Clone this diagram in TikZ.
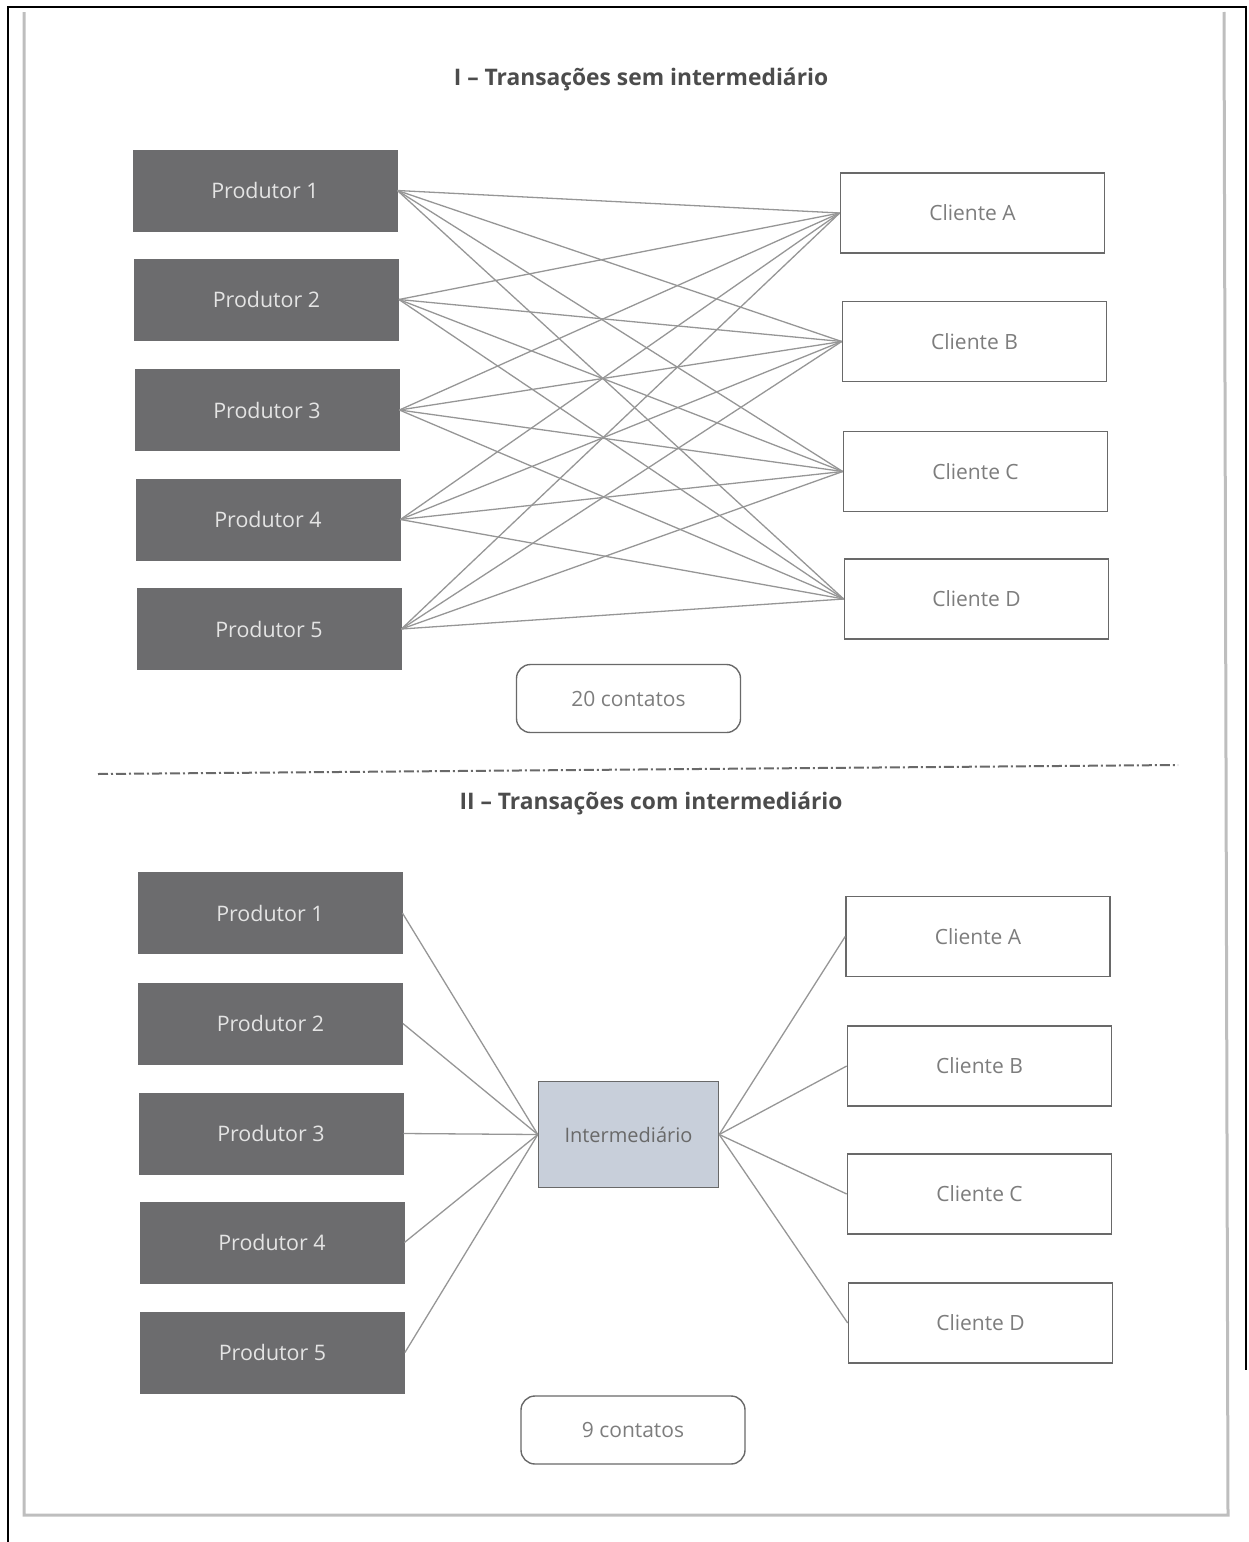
\documentclass[tikz,border=0pt]{standalone}
\usepackage{fontspec}
\setmainfont{Open Sans}
\usepackage{tikz}
\usetikzlibrary{calc,positioning}

\definecolor{prodfill}{RGB}{108,108,110}
\definecolor{prodtext}{RGB}{228,228,228}
\definecolor{boxline}{RGB}{105,105,105}
\definecolor{boxtext}{RGB}{125,125,125}
\definecolor{linkgray}{RGB}{150,150,150}
\definecolor{interfill}{RGB}{200,207,218}
\definecolor{pageedge}{RGB}{190,190,190}

\tikzset{
  produtor/.style={draw=prodfill,fill=prodfill,text=prodtext,inner sep=0pt,
    minimum width=132pt,minimum height=40.5pt,font=\fontsize{10.7}{12}\selectfont},
  cliente/.style={draw=boxline,line width=0.8pt,fill=white,text=boxtext,inner sep=0pt,
    minimum width=132pt,minimum height=40pt,font=\fontsize{10.5}{12}\selectfont},
  contatos/.style={draw=boxline,line width=0.7pt,rounded corners=7pt,text=boxtext,inner sep=0pt,
    minimum width=112pt,minimum height=34pt,font=\fontsize{10.5}{12}\selectfont},
  intermed/.style={draw=boxline,line width=0.7pt,fill=interfill,text=boxline,inner sep=0pt,
    minimum width=90pt,minimum height=53pt,font=\fontsize{10}{12}\selectfont},
  titulo/.style={text=black!70,font=\fontsize{11.4}{13}\selectfont\bfseries},
  ligacao/.style={draw=linkgray,line width=0.65pt}
}

\begin{document}
\begin{tikzpicture}[x=0.5pt,y=-0.5pt]
            \useasboundingbox (0,0) rectangle (1248,1542);
            % scan frame and page edge
            \draw[line width=1.4pt] (8,1542) -- (8,7) -- (1246,7) -- (1246,1370);
            \draw[pageedge,line width=1.5pt] (24,12) -- (24,1515) -- (1228,1515) -- (1224,12);

            % I - sem intermediario
            \node[titulo] (tit1) at (641,80) {I – Transações sem intermediário};

            \node[produtor] (p_1) at (265,190.5) {Produtor 1};
            \node[produtor] (p_2) at (266.5,299.5) {Produtor 2};
            \node[produtor] (p_3) at (267,410) {Produtor 3};
            \node[produtor] (p_4) at (268,519.5) {Produtor 4};
            \node[produtor] (p_5) at (269,629) {Produtor 5};

            \node[cliente] (c_A) at (972.5,213) {Cliente A};
            \node[cliente] (c_B) at (974.5,341.5) {Cliente B};
            \node[cliente] (c_C) at (975.5,471.5) {Cliente C};
            \node[cliente] (c_D) at (976.5,599) {Cliente D};

            \foreach \p in {1,...,5}
              \foreach \c in {A,B,C,D}
                \draw[ligacao] (p_\p.east) -- (c_\c.west);

            \node[contatos] (n20) at (628.5,698.5) {20 contatos};

            \draw[boxline,line width=1pt,dash pattern=on 5pt off 1.5pt on 1pt off 1.5pt]
              (98,774) -- (1178,765);

            % II - com intermediario
            \node[titulo] (tit2) at (651,803) {II – Transações com intermediário};

            \node[produtor] (q_1) at (270,913) {Produtor 1};
            \node[produtor] (q_2) at (270.5,1023.5) {Produtor 2};
            \node[produtor] (q_3) at (271,1133.5) {Produtor 3};
            \node[produtor] (q_4) at (272,1242.5) {Produtor 4};
            \node[produtor] (q_5) at (272.5,1352.5) {Produtor 5};

            \node[intermed] (m) at (628.5,1134.5) {Intermediário};

            \node[cliente] (d_A) at (978,936.5) {Cliente A};
            \node[cliente] (d_B) at (979.5,1066) {Cliente B};
            \node[cliente] (d_C) at (979.5,1194) {Cliente C};
            \node[cliente] (d_D) at (980.5,1323) {Cliente D};

            \foreach \p in {1,...,5}
              \draw[ligacao] (q_\p.east) -- (m.west);
            \foreach \c in {A,B,C,D}
              \draw[ligacao] (m.east) -- (d_\c.west);

            \node[contatos] (n9) at (633,1430) {9 contatos};
          \end{tikzpicture}
\end{document}
